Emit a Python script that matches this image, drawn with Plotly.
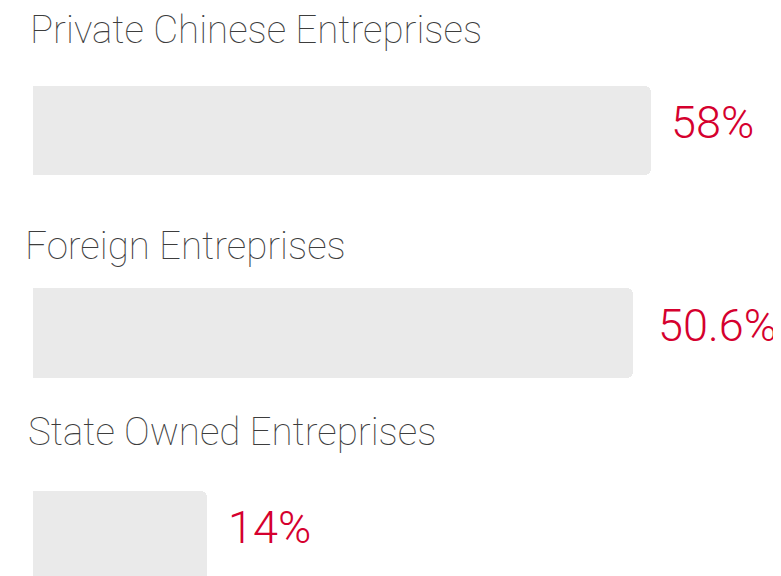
import plotly.graph_objects as go

# Данные
categories = ["Private Chinese Entreprises", "Foreign Entreprises", "State Owned Entreprises"]
value_labels = ["58%", "50.6%", "14%"]
# длина полосы, как она нарисована на исходнике (в единицах оси)
bar_lengths = [61.8, 60.0, 17.4]

positions = list(range(len(categories)))

# Небольшие поправки положения подписей (пиксели), как на исходнике
label_dx = [1, -4, -1]
label_dy = [101, 88, 104]
value_dx = [18, 23, 19]

fig = go.Figure()

fig.add_trace(
    go.Bar(
        x=bar_lengths,
        y=positions,
        orientation="h",
        width=0.444,
        marker=dict(color="#EAEAEA", cornerradius=6, line=dict(width=0)),
        hoverinfo="skip",
        showlegend=False,
    ))

# Подписи категорий над полосами
for i in range(len(categories)):
    fig.add_annotation(
        x=-0.6, y=positions[i],
        xref="x", yref="y",
        text=categories[i],
        showarrow=False,
        xanchor="left", yanchor="middle",
        xshift=label_dx[i], yshift=label_dy[i],
        font=dict(family="Roboto", size=38.5, color="#3d3d3d", weight=100),
    )

# Значения справа от полос
for i in range(len(categories)):
    fig.add_annotation(
        x=bar_lengths[i], y=positions[i],
        xref="x", yref="y",
        text=value_labels[i],
        showarrow=False,
        xanchor="left", yanchor="middle",
        xshift=value_dx[i], yshift=8,
        font=dict(family="Roboto", size=45, color="#D5002E", weight=300),
    )

fig.update_layout(
    width=781, height=576,
    margin=dict(l=0, r=0, t=0, b=0),
    paper_bgcolor="white",
    plot_bgcolor="white",
    xaxis=dict(range=[-2.5, 75.6], visible=False, fixedrange=True),
    yaxis=dict(range=[2.239, -0.605], visible=False, fixedrange=True),
    bargap=0,
)

fig.write_html("out.html")
